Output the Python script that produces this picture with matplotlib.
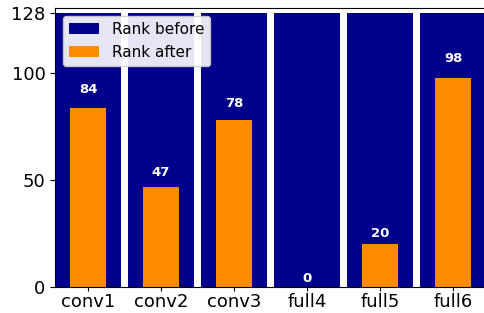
import numpy as np
import matplotlib.pyplot as plt

layers = ['conv1', 'conv2', 'conv3', 'full4', 'full5', 'full6']
rank_before = [128, 128, 128, 128, 128, 128]
rank_after = [84, 47, 78, 0, 20, 98]

x = np.arange(len(layers))

fig = plt.figure(figsize=(4.84, 3.13), dpi=100)
ax = fig.add_axes([0.114, 0.083, 0.89, 0.891])

ax.bar(x, rank_before, width=0.9, color='#00008b', label='Rank before')
ax.bar(x, rank_after, width=0.5, color='#ff8c00', label='Rank after')

# value labels just above the orange bars
for xi, v in zip(x, rank_after):
    ax.text(xi, v * 1.05 + 1, str(v), ha='center', va='bottom',
            color='white', fontweight='bold', fontsize=9.5)

ax.set_xlim(-0.45, 5.45)
ax.set_ylim(0, 130.5)
ax.set_yticks([0, 50, 100, 128])
ax.set_xticks(x)
ax.set_xticklabels(layers)
ax.tick_params(labelsize=13)
ax.tick_params(axis='x', pad=1.5, length=3)

ax.legend(loc='upper left', fontsize=11, framealpha=0.9)

plt.savefig('out.png', dpi=100)
